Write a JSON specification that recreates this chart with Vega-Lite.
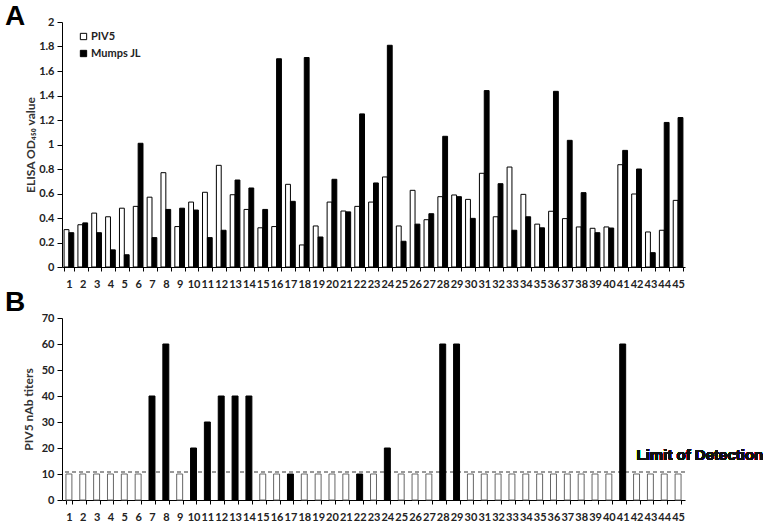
{
  "$schema": "https://vega.github.io/schema/vega-lite/v6.json",
  "padding": {"left": 5, "top": 3, "right": 0, "bottom": 0},
  "background": "white",
  "spacing": 0,
  "resolve": {"scale": {"color": "independent", "stroke": "independent"}, "legend": {"color": "independent", "stroke": "independent"}},
  "config": {
    "view": {"stroke": null},
    "font": "Lato",
    "axis": {"grid": false, "domainColor": "black", "tickColor": "black", "labelColor": "#222", "titleColor": "#333", "labelFont": "Lato", "titleFont": "Lato"},
    "title": {"font": "Liberation Sans", "fontSize": 28, "fontWeight": "bold", "color": "black", "anchor": "start", "frame": "group"}
  },
  "datasets": {
    "elisa": [
      {"sample": 1, "virus": "PIV5", "od": 0.305}, {"sample": 1, "virus": "Mumps JL", "od": 0.28},
      {"sample": 2, "virus": "PIV5", "od": 0.345}, {"sample": 2, "virus": "Mumps JL", "od": 0.36},
      {"sample": 3, "virus": "PIV5", "od": 0.44}, {"sample": 3, "virus": "Mumps JL", "od": 0.28},
      {"sample": 4, "virus": "PIV5", "od": 0.41}, {"sample": 4, "virus": "Mumps JL", "od": 0.14},
      {"sample": 5, "virus": "PIV5", "od": 0.48}, {"sample": 5, "virus": "Mumps JL", "od": 0.10},
      {"sample": 6, "virus": "PIV5", "od": 0.495}, {"sample": 6, "virus": "Mumps JL", "od": 1.01},
      {"sample": 7, "virus": "PIV5", "od": 0.57}, {"sample": 7, "virus": "Mumps JL", "od": 0.24},
      {"sample": 8, "virus": "PIV5", "od": 0.77}, {"sample": 8, "virus": "Mumps JL", "od": 0.47},
      {"sample": 9, "virus": "PIV5", "od": 0.33}, {"sample": 9, "virus": "Mumps JL", "od": 0.48},
      {"sample": 10, "virus": "PIV5", "od": 0.53}, {"sample": 10, "virus": "Mumps JL", "od": 0.465},
      {"sample": 11, "virus": "PIV5", "od": 0.61}, {"sample": 11, "virus": "Mumps JL", "od": 0.24},
      {"sample": 12, "virus": "PIV5", "od": 0.83}, {"sample": 12, "virus": "Mumps JL", "od": 0.30},
      {"sample": 13, "virus": "PIV5", "od": 0.59}, {"sample": 13, "virus": "Mumps JL", "od": 0.71},
      {"sample": 14, "virus": "PIV5", "od": 0.47}, {"sample": 14, "virus": "Mumps JL", "od": 0.645},
      {"sample": 15, "virus": "PIV5", "od": 0.32}, {"sample": 15, "virus": "Mumps JL", "od": 0.47},
      {"sample": 16, "virus": "PIV5", "od": 0.33}, {"sample": 16, "virus": "Mumps JL", "od": 1.70},
      {"sample": 17, "virus": "PIV5", "od": 0.675}, {"sample": 17, "virus": "Mumps JL", "od": 0.536},
      {"sample": 18, "virus": "PIV5", "od": 0.18}, {"sample": 18, "virus": "Mumps JL", "od": 1.71},
      {"sample": 19, "virus": "PIV5", "od": 0.335}, {"sample": 19, "virus": "Mumps JL", "od": 0.245},
      {"sample": 20, "virus": "PIV5", "od": 0.53}, {"sample": 20, "virus": "Mumps JL", "od": 0.716},
      {"sample": 21, "virus": "PIV5", "od": 0.457}, {"sample": 21, "virus": "Mumps JL", "od": 0.45},
      {"sample": 22, "virus": "PIV5", "od": 0.495}, {"sample": 22, "virus": "Mumps JL", "od": 1.25},
      {"sample": 23, "virus": "PIV5", "od": 0.53}, {"sample": 23, "virus": "Mumps JL", "od": 0.686},
      {"sample": 24, "virus": "PIV5", "od": 0.735}, {"sample": 24, "virus": "Mumps JL", "od": 1.81},
      {"sample": 25, "virus": "PIV5", "od": 0.335}, {"sample": 25, "virus": "Mumps JL", "od": 0.21},
      {"sample": 26, "virus": "PIV5", "od": 0.626}, {"sample": 26, "virus": "Mumps JL", "od": 0.35},
      {"sample": 27, "virus": "PIV5", "od": 0.386}, {"sample": 27, "virus": "Mumps JL", "od": 0.435},
      {"sample": 28, "virus": "PIV5", "od": 0.574}, {"sample": 28, "virus": "Mumps JL", "od": 1.067},
      {"sample": 29, "virus": "PIV5", "od": 0.588}, {"sample": 29, "virus": "Mumps JL", "od": 0.574},
      {"sample": 30, "virus": "PIV5", "od": 0.552}, {"sample": 30, "virus": "Mumps JL", "od": 0.397},
      {"sample": 31, "virus": "PIV5", "od": 0.765}, {"sample": 31, "virus": "Mumps JL", "od": 1.44},
      {"sample": 32, "virus": "PIV5", "od": 0.41}, {"sample": 32, "virus": "Mumps JL", "od": 0.68},
      {"sample": 33, "virus": "PIV5", "od": 0.816}, {"sample": 33, "virus": "Mumps JL", "od": 0.30},
      {"sample": 34, "virus": "PIV5", "od": 0.593}, {"sample": 34, "virus": "Mumps JL", "od": 0.41},
      {"sample": 35, "virus": "PIV5", "od": 0.35}, {"sample": 35, "virus": "Mumps JL", "od": 0.32},
      {"sample": 36, "virus": "PIV5", "od": 0.455}, {"sample": 36, "virus": "Mumps JL", "od": 1.434},
      {"sample": 37, "virus": "PIV5", "od": 0.395}, {"sample": 37, "virus": "Mumps JL", "od": 1.034},
      {"sample": 38, "virus": "PIV5", "od": 0.327}, {"sample": 38, "virus": "Mumps JL", "od": 0.607},
      {"sample": 39, "virus": "PIV5", "od": 0.316}, {"sample": 39, "virus": "Mumps JL", "od": 0.28},
      {"sample": 40, "virus": "PIV5", "od": 0.327}, {"sample": 40, "virus": "Mumps JL", "od": 0.318},
      {"sample": 41, "virus": "PIV5", "od": 0.835}, {"sample": 41, "virus": "Mumps JL", "od": 0.952},
      {"sample": 42, "virus": "PIV5", "od": 0.596}, {"sample": 42, "virus": "Mumps JL", "od": 0.80},
      {"sample": 43, "virus": "PIV5", "od": 0.286}, {"sample": 43, "virus": "Mumps JL", "od": 0.117},
      {"sample": 44, "virus": "PIV5", "od": 0.30}, {"sample": 44, "virus": "Mumps JL", "od": 1.18},
      {"sample": 45, "virus": "PIV5", "od": 0.544}, {"sample": 45, "virus": "Mumps JL", "od": 1.22}
    ],
    "titers": [
      {"sample": 1, "titer": 10, "result": "below"}, {"sample": 2, "titer": 10, "result": "below"},
      {"sample": 3, "titer": 10, "result": "below"}, {"sample": 4, "titer": 10, "result": "below"},
      {"sample": 5, "titer": 10, "result": "below"}, {"sample": 6, "titer": 10, "result": "below"},
      {"sample": 7, "titer": 40, "result": "detected"}, {"sample": 8, "titer": 60, "result": "detected"},
      {"sample": 9, "titer": 10, "result": "below"}, {"sample": 10, "titer": 20, "result": "detected"},
      {"sample": 11, "titer": 30, "result": "detected"}, {"sample": 12, "titer": 40, "result": "detected"},
      {"sample": 13, "titer": 40, "result": "detected"}, {"sample": 14, "titer": 40, "result": "detected"},
      {"sample": 15, "titer": 10, "result": "below"}, {"sample": 16, "titer": 10, "result": "below"},
      {"sample": 17, "titer": 10, "result": "detected"}, {"sample": 18, "titer": 10, "result": "below"},
      {"sample": 19, "titer": 10, "result": "below"}, {"sample": 20, "titer": 10, "result": "below"},
      {"sample": 21, "titer": 10, "result": "below"}, {"sample": 22, "titer": 10, "result": "detected"},
      {"sample": 23, "titer": 10, "result": "below"}, {"sample": 24, "titer": 20, "result": "detected"},
      {"sample": 25, "titer": 10, "result": "below"}, {"sample": 26, "titer": 10, "result": "below"},
      {"sample": 27, "titer": 10, "result": "below"}, {"sample": 28, "titer": 60, "result": "detected"},
      {"sample": 29, "titer": 60, "result": "detected"}, {"sample": 30, "titer": 10, "result": "below"},
      {"sample": 31, "titer": 10, "result": "below"}, {"sample": 32, "titer": 10, "result": "below"},
      {"sample": 33, "titer": 10, "result": "below"}, {"sample": 34, "titer": 10, "result": "below"},
      {"sample": 35, "titer": 10, "result": "below"}, {"sample": 36, "titer": 10, "result": "below"},
      {"sample": 37, "titer": 10, "result": "below"}, {"sample": 38, "titer": 10, "result": "below"},
      {"sample": 39, "titer": 10, "result": "below"}, {"sample": 40, "titer": 10, "result": "below"},
      {"sample": 41, "titer": 60, "result": "detected"}, {"sample": 42, "titer": 10, "result": "below"},
      {"sample": 43, "titer": 10, "result": "below"}, {"sample": 44, "titer": 10, "result": "below"},
      {"sample": 45, "titer": 10, "result": "below"}
    ]
  },
  "vconcat": [
    {
      "width": 623,
      "height": 245,
      "title": {"text": "A", "dx": -57, "offset": -15},
      "data": {"name": "elisa"},
      "mark": {"type": "bar", "stroke": "black", "strokeWidth": 1},
      "encoding": {
        "x": {
          "field": "sample", "type": "ordinal",
          "scale": {"paddingInner": 0.3, "paddingOuter": 0.15},
          "axis": {"title": null, "labelAngle": 0, "labelOverlap": false, "tickBand": "extent", "tickSize": 4, "labelPadding": 7, "labelFontSize": 11, "labelFontWeight": "bold"}
        },
        "xOffset": {"field": "virus", "type": "nominal", "sort": ["PIV5", "Mumps JL"]},
        "y": {
          "field": "od", "type": "quantitative",
          "scale": {"domain": [0, 2], "nice": false},
          "axis": {"title": "ELISA OD₄₅₀ value", "values": [0, 0.2, 0.4, 0.6, 0.8, 1, 1.2, 1.4, 1.6, 1.8, 2], "format": "~g", "tickSize": 5, "labelPadding": 3, "labelFontSize": 11, "labelFontWeight": "bold", "titleFontSize": 12, "titleFontWeight": "bold", "titlePadding": 1}
        },
        "color": {
          "field": "virus", "type": "nominal",
          "scale": {"domain": ["PIV5", "Mumps JL"], "range": ["white", "black"]},
          "legend": {"title": null, "orient": "none", "legendX": 16, "legendY": 9, "symbolType": "square", "symbolSize": 40, "symbolStrokeColor": "black", "symbolStrokeWidth": 1, "labelFontSize": 11, "labelFontWeight": "bold", "labelColor": "#222", "labelOffset": 2, "rowPadding": 5}
        }
      }
    },
    {
      "width": 623,
      "height": 182,
      "title": {"text": "B", "dx": -57, "offset": -5},
      "data": {"name": "titers"},
      "encoding": {
        "x": {
          "field": "sample", "type": "ordinal",
          "scale": {"paddingInner": 0.57, "paddingOuter": 0.285},
          "axis": {"title": null, "labelAngle": 0, "labelOverlap": false, "tickBand": "extent", "tickSize": 4, "labelPadding": 7, "labelFontSize": 11, "labelFontWeight": "bold"}
        },
        "y": {
          "field": "titer", "type": "quantitative",
          "scale": {"domain": [0, 70], "nice": false},
          "axis": {"title": "PIV5 nAb titers", "values": [0, 10, 20, 30, 40, 50, 60, 70], "labelOverlap": false, "tickSize": 5, "labelPadding": 3, "labelFontSize": 11, "labelFontWeight": "bold", "titleFontSize": 12, "titleFontWeight": "bold", "titlePadding": 6}
        }
      },
      "layer": [
        {
          "mark": {"type": "rule", "strokeDash": [4, 3], "color": "#999", "strokeWidth": 1},
          "encoding": {"x": null, "y": {"datum": 10.6, "type": "quantitative"}}
        },
        {
          "mark": {"type": "bar", "strokeWidth": 1},
          "encoding": {
            "color": {"field": "result", "type": "nominal", "scale": {"domain": ["below", "detected"], "range": ["white", "black"]}, "legend": null},
            "stroke": {"field": "result", "type": "nominal", "scale": {"domain": ["below", "detected"], "range": ["#666", "black"]}, "legend": null}
          }
        },
        {
          "mark": {"type": "text", "text": "Limit of Detection", "font": "Liberation Sans", "fontSize": 15, "fontWeight": "bold", "align": "left", "baseline": "middle", "color": "#111", "dx": 0},
          "encoding": {"x": {"datum": 42}, "y": {"datum": 17.3, "type": "quantitative"}}
        }
      ]
    }
  ]
}
